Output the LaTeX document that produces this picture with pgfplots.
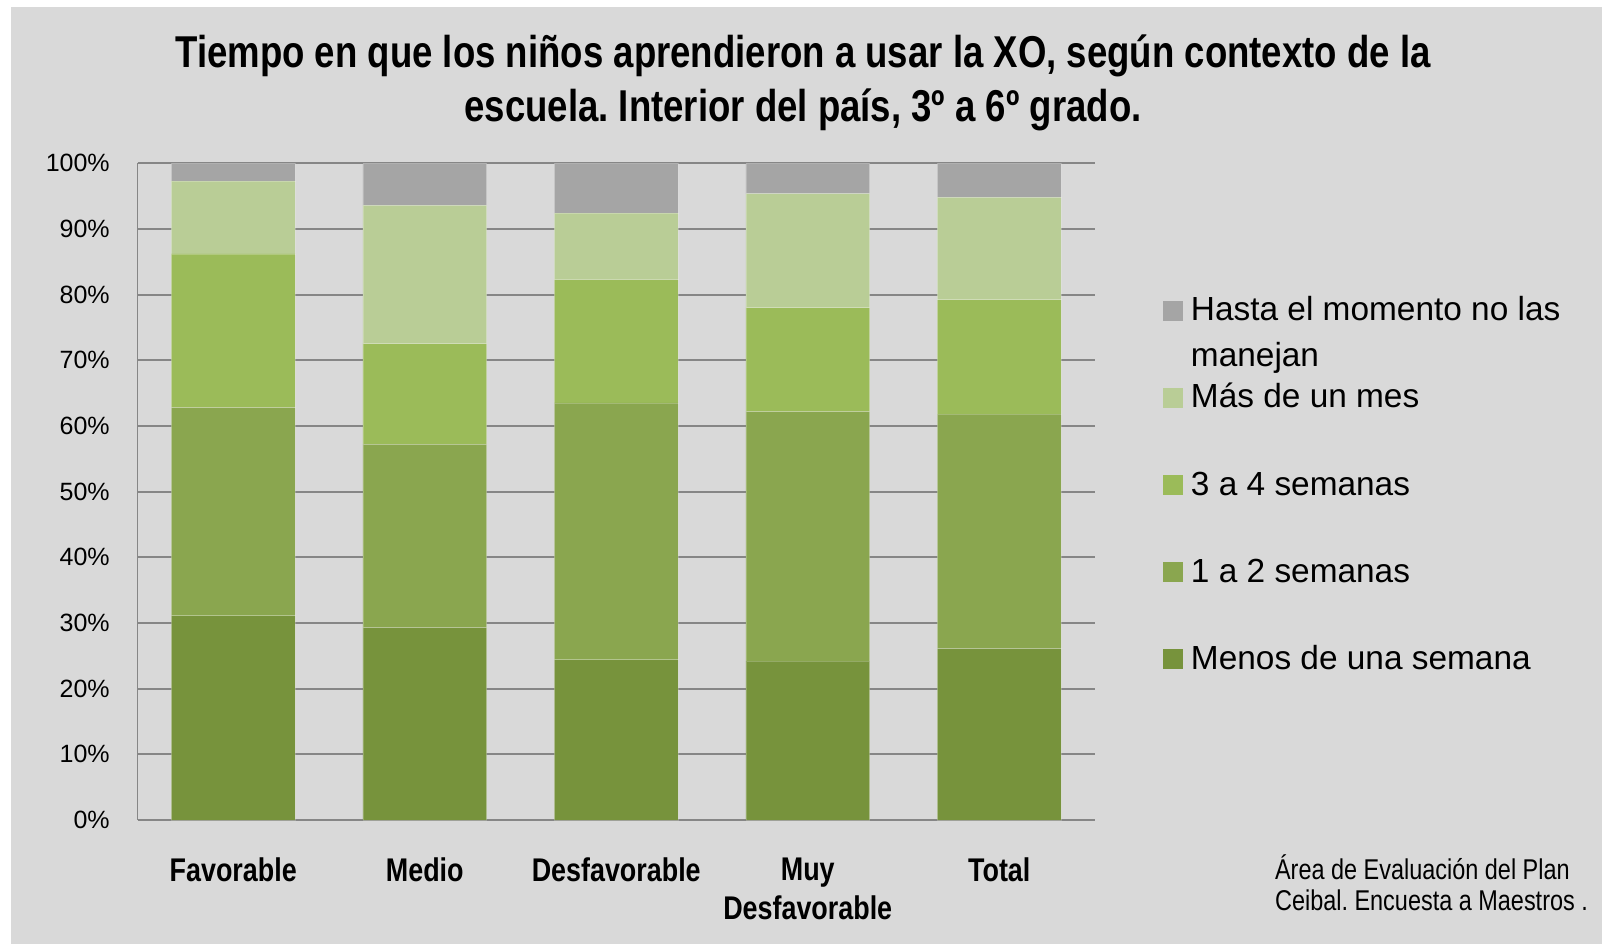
\documentclass[border=0pt]{standalone}
\usepackage{fontspec}
\setmainfont{Liberation Sans}
\newfontfamily\narrow[FakeStretch=0.82]{Liberation Sans}
\usepackage{pgfplots}
\pgfplotsset{compat=1.18}
\definecolor{bg}{HTML}{D9D9D9}
\definecolor{gridc}{HTML}{868686}
\definecolor{cA}{HTML}{77933C}
\definecolor{cB}{HTML}{8AA64F}
\definecolor{cC}{HTML}{9BBB59}
\definecolor{cD}{HTML}{B9CD96}
\definecolor{cE}{HTML}{A5A5A5}
\frenchspacing

\begin{document}
\begin{tikzpicture}
\path[use as bounding box] (0,0) rectangle (801pt,472pt);
\fill[white] (0,0) rectangle (801pt,472pt);
\fill[bg] (5.5pt,0) rectangle (801pt,468.5pt);

\node[anchor=base, font=\narrow\bfseries\fontsize{22.3}{27}\selectfont] at (401.5pt,438pt)
  {Tiempo en que los niños aprendieron a usar la XO, según contexto de la};
\node[anchor=base, font=\narrow\bfseries\fontsize{22.3}{27}\selectfont] at (401.5pt,411pt)
  {escuela. Interior del país, 3º a 6º grado.};

\begin{axis}[
  at={(68.75pt,62pt)}, anchor=south west,
  scale only axis, width=478.75pt, height=328.35pt,
  ybar stacked, bar width=61.8pt,
  xmin=-0.5, xmax=4.5, ymin=0, ymax=100,
  xtick={0,...,4},
  xticklabels={Favorable,Medio,Desfavorable,Muy\\Desfavorable,Total},
  xticklabel style={font=\narrow\bfseries\fontsize{16.4}{19.5}\selectfont, align=center,
    anchor=north, inner sep=0pt, yshift=-18.7pt},
  ytick={0,10,...,100},
  yticklabel={\pgfmathprintnumber{\tick}\%},
  /pgf/number format/assume math mode=true,
  yticklabel style={font=\fontsize{12.5}{14}\selectfont, anchor=east, inner sep=0pt, xshift=-13.7pt},
  axis x line*=bottom, axis y line*=left,
  axis line style={-, draw=gridc, line width=0.9pt},
  ymajorgrids, grid style={draw=gridc, line width=0.9pt},
  major tick length=0pt,
  every axis plot/.append style={draw=white, draw opacity=0.22, line width=0.4pt},
  legend image code/.code={\fill[#1, draw=none] (0pt,-5pt) rectangle (10pt,5pt);},
  reverse legend,
  legend style={draw=none, fill=none, at={(1.071,0.7908)}, anchor=north west,
    inner sep=0pt, outer sep=0pt, row sep=33.6pt, column sep=4pt,
    font=\fontsize{16.7}{23}\selectfont,
    nodes={inner sep=0pt, text height=10pt, text depth=0pt}},
  legend cell align=left,
]
\addplot[fill=cA] coordinates {(0,31.1) (1,29.3) (2,24.4) (3,24.2) (4,26.1)};
\addlegendentry{Menos de una semana}
\addplot[fill=cB] coordinates {(0,31.7) (1,27.9) (2,39.1) (3,38.0) (4,35.7)};
\addlegendentry{1 a 2 semanas}
\addplot[fill=cC] coordinates {(0,23.4) (1,15.3) (2,18.8) (3,15.8) (4,17.4)};
\addlegendentry{3 a 4 semanas}
\addplot[fill=cD] coordinates {(0,11.1) (1,21.1) (2,10.1) (3,17.4) (4,15.6)};
\addlegendentry{Más de un mes}
\addplot[fill=cE] coordinates {(0,2.7) (1,6.4) (2,7.6) (3,4.6) (4,5.2)};
\addlegendentry{\begin{tabular}[t]{@{}l@{}}Hasta el momento no las\\manejan\end{tabular}}
\end{axis}

\node[anchor=base west, font=\narrow\fontsize{14.3}{15.5}\selectfont] at (634pt,32.5pt)
  {Área de Evaluación del Plan};
\node[anchor=base west, font=\narrow\fontsize{14.3}{15.5}\selectfont] at (634pt,17pt)
  {Ceibal. Encuesta a Maestros .};
\end{tikzpicture}
\end{document}
